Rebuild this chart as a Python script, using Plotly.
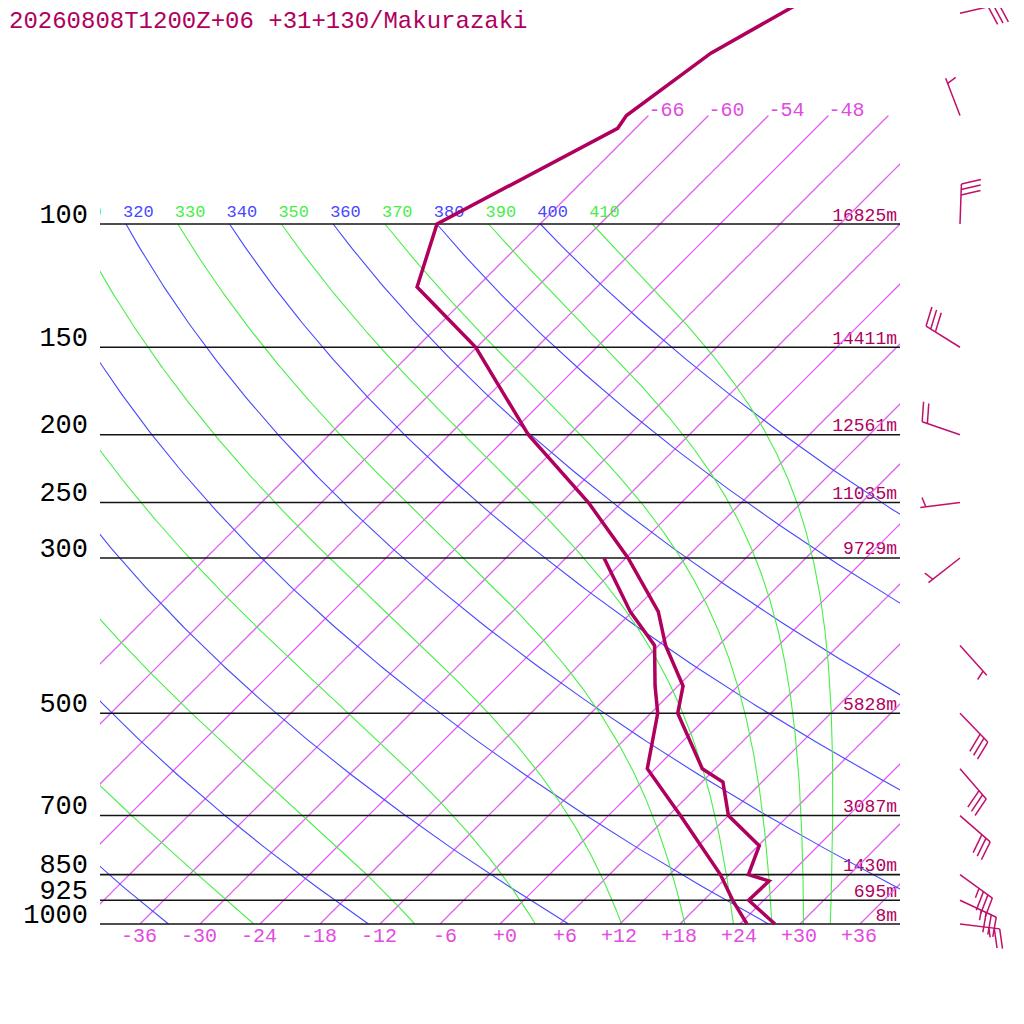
import numpy as np
import plotly.graph_objects as go

# ---------------- data ----------------
TITLE = "20260808T1200Z+06 +31+130/Makurazaki"

# temperature profile (hPa, degC)
temp_p = [1000, 925, 868, 850, 773, 700, 627, 600, 500, 457, 400, 358, 300, 250, 200, 150, 123, 100, 73, 70, 57, 50, 40]
temp_t = [27.5, 22.5, 22.6, 19.9, 18.1, 12.0, 8.1, 4.7, -3.3, -5.5, -11.3, -15.4, -23.8, -33.3, -46.1, -60.1, -72.0, -76.3, -67.8, -68.2, -66.0, -62.9, -57.7]

# dew point profile (hPa, degC)
dew_p = [1000, 925, 850, 700, 600, 500, 457, 400, 358, 300]
dew_t = [24.7, 20.9, 17.1, 7.2, -0.8, -5.3, -8.3, -12.4, -18.2, -26.2]

# winds (hPa, direction deg, speed)
wind_p = [1000, 925, 850, 700, 600, 500, 400, 300, 250, 200, 150, 100, 70, 50]
wind_dir = [97, 115, 126, 131, 139, 136, 138, 232, 263, 289, 302, 2, 339, 77]
wind_spd = [25, 35, 35, 30, 30, 30, 5, 5, 5, 20, 30, 30, 5, 30]

# standard levels and heights
level_p = [100, 150, 200, 250, 300, 500, 700, 850, 925, 1000]
level_hgt = [16825, 14411, 12561, 11035, 9729, 5828, 3087, 1430, 695, 8]

# background lines
isotherm_t = [-66, -60, -54, -48, -42, -36, -30, -24, -18, -12, -6, 0, 6, 12, 18, 24, 30, 36]
isotherm_label_t = [-66, -60, -54, -48]
temp_tick_t = [-36, -30, -24, -18, -12, -6, 0, 6, 12, 18, 24, 30, 36]
dry_theta = [240, 260, 280, 300, 320, 340, 360, 380, 400]
moist_theta = [250, 270, 290, 310, 330, 350, 370, 390, 410]
theta_label = [310, 320, 330, 340, 350, 360, 370, 380, 390, 400, 410]

# ---------------- geometry / style ----------------
PAGE = 8.0                    # page margin of the browser body
PX_DEG = 10.0                 # pixels per degC
PX_DEC = 700.0                # pixels per decade of pressure
K = PX_DEC / np.log(10) / PX_DEG   # 45 degree skew
X0_PX = 500.0 - PAGE          # figure pixel of 0 degC at 1000 hPa
Y1000_PX = 924.0 - PAGE       # figure pixel of 1000 hPa
P_ISO_TOP = 70.0
P_ADIA_TOP = 100.0
KAPPA = 0.2857

C_PROF = "#b0005e"
C_ISO = "#e060f0"
C_ISO_TXT = "#e04ce0"
C_BLUE = "#4848ff"
C_GREEN = "#48ee48"
C_BLACK = "#141414"
C_BARB = "#c0106a"
FONT = "Liberation Mono"


def skx(t, p):
    return np.asarray(t, float) + K * np.log(1000.0 / np.asarray(p, float))


def shift_p(p, dy_px):
    """pressure moved dy_px pixels down the screen"""
    return np.asarray(p, float) * np.exp(dy_px * np.log(10) / PX_DEC)


def shift_x(x, dx_px):
    return np.asarray(x, float) + dx_px / PX_DEG


def px_to_x(px):
    return (px - PAGE - X0_PX) / PX_DEG


# moist (pseudo) adiabats
Rd, Cpd, Lv, EPS = 287.04, 1005.7, 2.501e6, 0.622


def dTdlnp(T, p):
    Tc = T - 273.15
    es = 6.112 * np.exp(17.67 * Tc / (Tc + 243.5))
    rs = EPS * es / (p - es)
    return (Rd * T + Lv * rs) / (Cpd + Lv * Lv * rs * EPS / (Rd * T * T))


def moist_curve(theta):
    lnp = np.linspace(np.log(P_ADIA_TOP), np.log(1000.0), 500)
    T = theta * (P_ADIA_TOP / 1000.0) ** KAPPA
    Ts = [T]
    for i in range(len(lnp) - 1):
        h = lnp[i + 1] - lnp[i]
        p0, p1 = np.exp(lnp[i]), np.exp(lnp[i + 1])
        pm = np.exp(0.5 * (lnp[i] + lnp[i + 1]))
        k1 = dTdlnp(T, p0)
        k2 = dTdlnp(T + 0.5 * h * k1, pm)
        k3 = dTdlnp(T + 0.5 * h * k2, pm)
        k4 = dTdlnp(T + h * k3, p1)
        T = T + h / 6 * (k1 + 2 * k2 + 2 * k3 + k4)
        Ts.append(T)
    return np.exp(lnp), np.array(Ts) - 273.15


fig = go.Figure()
G = dict(xaxis="x2", yaxis="y2", hoverinfo="skip", showlegend=False)
F = dict(xaxis="x", yaxis="y", hoverinfo="skip", showlegend=False)

# isotherms
iso_grid = np.geomspace(1000.0, P_ISO_TOP, 60)
for t in isotherm_t:
    fig.add_trace(go.Scatter(x=skx(np.full(iso_grid.size, float(t)), iso_grid), y=iso_grid,
                             mode="lines", opacity=1.0,
                             line=dict(color=C_ISO, width=1.3, simplify=False), **G))

# dry adiabats
pgrid = np.geomspace(1000.0, P_ADIA_TOP, 200)
for th in dry_theta:
    t = th * (pgrid / 1000.0) ** KAPPA - 273.15
    fig.add_trace(go.Scatter(x=skx(t, pgrid), y=pgrid, mode="lines",
                             line=dict(color=C_BLUE, width=1.1), **G))

# moist adiabats
for th in moist_theta:
    pp, tt = moist_curve(th)
    fig.add_trace(go.Scatter(x=skx(tt, pp), y=pp, mode="lines",
                             line=dict(color=C_GREEN, width=1.1), **G))

# pressure level lines
xs, ys = [], []
for p in level_p:
    xs += [-40, 40, None]
    ys += [p, p, None]
fig.add_trace(go.Scatter(x=xs, y=ys, mode="lines", line=dict(color=C_BLACK, width=1.6), **G))

# theta labels (clipped at left edge)
lab_x = skx(np.array(theta_label) * (P_ADIA_TOP / 1000.0) ** KAPPA - 273.15, P_ADIA_TOP)
fig.add_trace(go.Scatter(
    x=shift_x(lab_x, -3), y=shift_p([P_ADIA_TOP] * len(theta_label), -11),
    mode="text", text=[str(v) for v in theta_label], textposition="middle right",
    textfont=dict(family=FONT, size=17,
                  color=[C_BLUE if v % 20 == 0 else C_GREEN for v in theta_label]),
    cliponaxis=True, **G))

# isotherm labels
fig.add_trace(go.Scatter(
    x=skx(isotherm_label_t, P_ISO_TOP), y=shift_p([P_ISO_TOP] * len(isotherm_label_t), -5),
    mode="text", text=["%+d" % v for v in isotherm_label_t], textposition="middle right",
    textfont=dict(family=FONT, size=20, color=C_ISO_TXT), cliponaxis=True, **G))

# profiles
fig.add_trace(go.Scatter(x=skx(temp_t, temp_p), y=temp_p, mode="lines",
                         line=dict(color=C_PROF, width=3.5), **G))
fig.add_trace(go.Scatter(x=skx(dew_t, dew_p), y=dew_p, mode="lines",
                         line=dict(color=C_PROF, width=3.5), **G))

# ---- labels outside the diagram (full-width subplot) ----
fig.add_trace(go.Scatter(
    x=[px_to_x(88)] * len(level_p), y=shift_p(level_p, -8),
    mode="text", text=[str(p) for p in level_p], textposition="middle left",
    textfont=dict(family=FONT, size=27, color="#000000"), cliponaxis=False, **F))

fig.add_trace(go.Scatter(
    x=[px_to_x(897)] * len(level_p), y=shift_p(level_p, -8),
    mode="text", text=["%dm" % h for h in level_hgt], textposition="middle left",
    textfont=dict(family=FONT, size=18, color=C_PROF), cliponaxis=False, **F))

fig.add_trace(go.Scatter(
    x=shift_x(temp_tick_t, 17), y=shift_p([1000.0] * len(temp_tick_t), 13),
    mode="text", text=["%+d" % v for v in temp_tick_t], textposition="middle left",
    textfont=dict(family=FONT, size=20, color=C_ISO_TXT), cliponaxis=False, **F))

# wind barbs
BARB_X = px_to_x(960)
STAFF, BARB, HALF, GAP, ANG = 40.0, 20.0, 10.0, 5.5, np.radians(75)
bx, by = [], []
for p, d, s in zip(wind_p, wind_dir, wind_spd):
    ux, uy = np.sin(np.radians(d)), -np.cos(np.radians(d))
    vx = ux * np.cos(ANG) - uy * np.sin(ANG)
    vy = ux * np.sin(ANG) + uy * np.cos(ANG)
    segs = [((0, 0), (ux * STAFF, uy * STAFF))]
    n10, n5 = s // 10, (s % 10) // 5
    pos = STAFF
    if n10 == 0:
        pos -= GAP
    for _ in range(n10):
        segs.append(((ux * pos, uy * pos), (ux * pos + vx * BARB, uy * pos + vy * BARB)))
        pos -= GAP
    for _ in range(n5):
        segs.append(((ux * pos, uy * pos), (ux * pos + vx * HALF, uy * pos + vy * HALF)))
        pos -= GAP
    for a, b in segs:
        bx += [float(shift_x(BARB_X, a[0])), float(shift_x(BARB_X, b[0])), None]
        by += [float(shift_p(p, a[1])), float(shift_p(p, b[1])), None]
fig.add_trace(go.Scatter(x=bx, y=by, mode="lines", line=dict(color=C_BARB, width=1.5), **F))

# axis ranges in figure pixels (figure is offset by the page margin)
XR = [(0 - X0_PX) / PX_DEG, (1024 - X0_PX) / PX_DEG]
YR = [3 - (Y1000_PX - 1024) / PX_DEC, 3 - Y1000_PX / PX_DEC]
fig.update_layout(
    width=1024, height=1024, margin=dict(l=0, r=0, t=0, b=0),
    paper_bgcolor="white", plot_bgcolor="rgba(0,0,0,0)", showlegend=False,
    xaxis=dict(domain=[0, 1], range=XR, visible=False),
    yaxis=dict(domain=[0, 1], type="log", range=YR, visible=False),
    xaxis2=dict(domain=[(100 - PAGE) / 1024, (900 - PAGE) / 1024], range=[-40, 40],
                anchor="y2", visible=False),
    yaxis2=dict(domain=[0, 1], type="log", range=YR, anchor="x2", visible=False),
    annotations=[dict(text=TITLE, xref="paper", yref="paper", x=0, y=1,
                      xanchor="left", yanchor="top", showarrow=False, xshift=-1, yshift=2,
                      font=dict(family=FONT, size=24, color=C_PROF))],
)
fig.write_html("out.html")
